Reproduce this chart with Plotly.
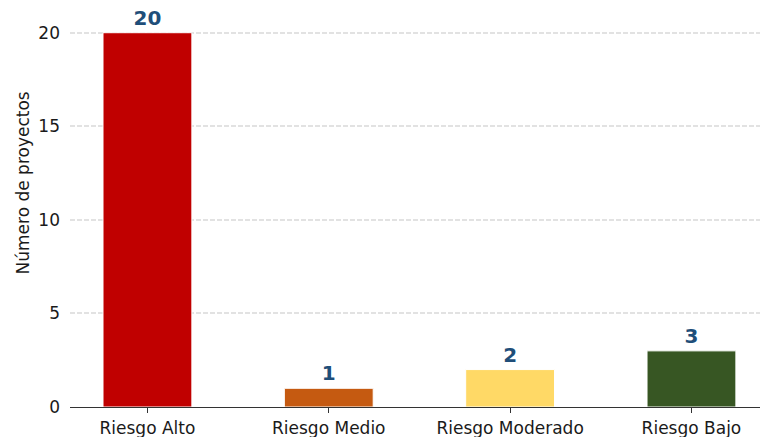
import plotly.graph_objects as go

categories = ["Riesgo Alto", "Riesgo Medio", "Riesgo Moderado", "Riesgo Bajo"]
counts = [20, 1, 2, 3]
bar_colors = ["#C00000", "#C55A11", "#FFD966", "#375623"]
y_ticks = [0, 5, 10, 15, 20]

FONT = "DejaVu Sans"

PLOT_W = 690
PLOT_H = 393

fig = go.Figure()
fig.add_trace(
    go.Bar(
        x=categories,
        y=counts,
        width=0.49,
        marker=dict(color=bar_colors, line=dict(color="white", width=1)),
        text=[str(v) for v in counts],
        textposition="outside",
        textfont=dict(family=FONT, size=20, color="#1F4E79", weight="bold"),
        cliponaxis=False,
        hoverinfo="skip",
    )
)

fig.update_layout(
    width=760,
    height=437,
    margin=dict(l=70, r=0, t=14, b=30),
    paper_bgcolor="white",
    plot_bgcolor="white",
    font=dict(family=FONT, size=17, color="#1A1A1A"),
    showlegend=False,
    annotations=[
        dict(
            text="Número de proyectos",
            textangle=-90,
            x=(22 - 70) / PLOT_W,
            xref="paper",
            y=(407 - 183.5) / PLOT_H,
            yref="paper",
            xanchor="center",
            yanchor="middle",
            showarrow=False,
            font=dict(family=FONT, size=17, color="#1A1A1A"),
        )
    ],
)

fig.update_xaxes(
    range=[-0.427, 3.378],
    showline=True,
    linecolor="#333333",
    linewidth=1.3,
    ticks="outside",
    ticklen=5,
    tickwidth=1.2,
    tickcolor="#333333",
    showgrid=False,
    zeroline=False,
)
fig.update_yaxes(
    range=[0, 21],
    tickvals=y_ticks,
    showline=False,
    ticks="",
    ticklabelstandoff=9,
    showgrid=True,
    gridcolor="#E2E2E2",
    griddash="5px,2px",
    gridwidth=1.5,
    zeroline=False,
)

# drop the default page margin so the figure sits at the window's corner
fig.write_html(
    "out.html",
    config={"displayModeBar": False},
    post_script="document.body.style.margin = '0';",
)
